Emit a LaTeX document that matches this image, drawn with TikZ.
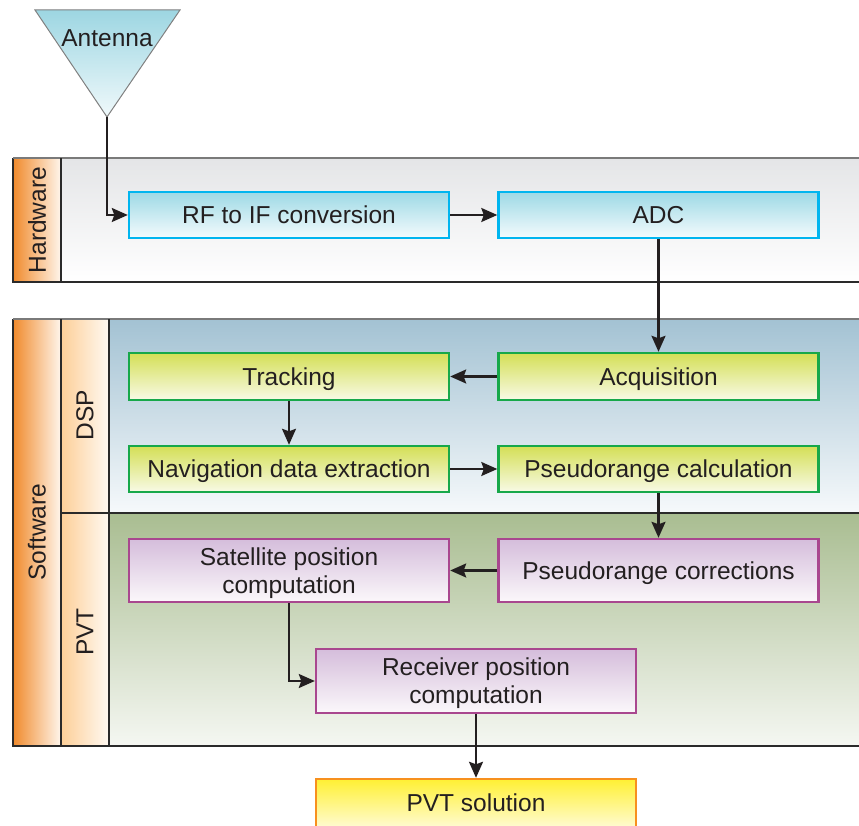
\documentclass[tikz,border=0pt]{standalone}
\usepackage{fontspec}
\setmainfont{Liberation Sans}
\usetikzlibrary{arrows.meta}
\definecolor{txt}{HTML}{231F20}
\definecolor{antT}{HTML}{9DD6E2}
\definecolor{antB}{HTML}{F0F9FB}
\definecolor{hwAreaT}{HTML}{E4E5E7}
\definecolor{orL}{HTML}{F08A2C}
\definecolor{orR}{HTML}{FFF6EC}
\definecolor{loL}{HTML}{FDCF98}
\definecolor{loR}{HTML}{FFF9F2}
\definecolor{dspT}{HTML}{A3C2D3}
\definecolor{dspB}{HTML}{F6F9FB}
\definecolor{pvtT}{HTML}{A9BD91}
\definecolor{pvtB}{HTML}{F5F7F2}
\definecolor{hwBd}{HTML}{00B5EF}
\definecolor{hwT}{HTML}{9DD9E5}
\definecolor{hwB}{HTML}{F4FBFD}
\definecolor{gBd}{HTML}{17A84A}
\definecolor{gT}{HTML}{D4DF56}
\definecolor{gB}{HTML}{F8FAE6}
\definecolor{pBd}{HTML}{A9478F}
\definecolor{pT}{HTML}{D5BDDB}
\definecolor{pB}{HTML}{FBF8FB}
\definecolor{yBd}{HTML}{F7901E}
\definecolor{yT}{HTML}{FFF033}
\definecolor{yB}{HTML}{FFFBD0}
\definecolor{bandln}{HTML}{2A2A2A}
\definecolor{bandtop}{HTML}{7A7A7A}
\begin{document}
\begin{tikzpicture}[x=1pt,y=1pt,
  lbl/.style={text=txt, font=\fontsize{24.5}{28}\selectfont, inner sep=0pt},
  box/.style={draw, line width=2.4pt, minimum width=320pt, minimum height=46pt, inner sep=0pt, text=txt, font=\fontsize{24.5}{28}\selectfont, align=center, text height=17.6pt, text depth=0pt},
  two/.style={text height=45.6pt},
  hwbox/.style={box, draw=hwBd, top color=hwT, bottom color=hwB},
  gbox/.style={box, draw=gBd, top color=gT, bottom color=gB},
  pbox/.style={box, draw=pBd, top color=pT, bottom color=pB, minimum height=63pt},
  ybox/.style={box, draw=yBd, top color=yT, bottom color=yB, minimum height=48pt},
  bandline/.style={draw=bandln, line width=1.1pt},
  bandtopline/.style={draw=bandtop, line width=1.3pt},
  arr/.style={draw=txt, line width=2.2pt, -{Stealth[length=16pt,width=14pt,inset=2.5pt]}}
]
\useasboundingbox (0,0) rectangle (859,825);
\clip (0,0) rectangle (859,825);

% Hardware band
\shade[top color=hwAreaT, bottom color=white] (61,543) rectangle (870,667);
\shade[left color=orL, right color=orR] (13,543) rectangle (61,667);
\draw[bandline] (13,667) -- (13,543) -- (870,543);
\draw[bandtopline] (13,667) -- (870,667);
\draw[bandline] (61,543) -- (61,667);
\node[lbl, rotate=90] (hwl) at (37,605) {Hardware};

% Software band
\shade[left color=orL, right color=orR] (13,79) rectangle (61,506);
\shade[left color=loL, right color=loR] (61,79) rectangle (109,506);
\shade[top color=dspT, bottom color=dspB] (109,312) rectangle (870,506);
\shade[top color=pvtT, bottom color=pvtB] (109,79) rectangle (870,312);
\draw[bandline] (13,506) -- (13,79) -- (870,79);
\draw[bandtopline] (13,506) -- (870,506);
\draw[bandline] (61,79) -- (61,506);
\draw[bandline] (109,79) -- (109,506);
\draw[bandline] (61,312) -- (870,312);
\node[lbl, rotate=90] (swl) at (37,293) {Software};
\node[lbl, rotate=90] (dspl) at (85,410) {DSP};
\node[lbl, rotate=90] (pvtl) at (85,193) {PVT};

% Antenna
\shade[top color=antT, bottom color=antB] (35,815) -- (180,815) -- (107,708) -- cycle;
\draw[draw=gray, line width=1pt] (35,815) -- (180,815) -- (107,708) -- cycle;
\coordinate (ant) at (107,708);
\node[lbl] (antl) at (107,787) {Antenna};

% Boxes
\node[hwbox] (rf) at (289,610) {RF to IF conversion};
\node[hwbox] (adc) at (658.5,610) {ADC};
\node[gbox, minimum height=47pt] (trk) at (289,448.5) {Tracking};
\node[gbox, minimum height=47pt] (acq) at (658.5,448.5) {Acquisition};
\node[gbox] (nav) at (289,356) {Navigation data extraction};
\node[gbox] (psc) at (658.5,356) {Pseudorange calculation};
\node[pbox, two] (sat) at (289,254.5) {Satellite position\\computation};
\node[pbox] (pcor) at (658.5,254.5) {Pseudorange corrections};
\node[pbox, two, minimum height=64pt] (rcv) at (476,144) {Receiver position\\computation};
\node[ybox] (pvts) at (476,22) {PVT solution};

% Arrows
\draw[arr] (ant) |- (rf.west);
\draw[arr] (rf) -- (adc);
\draw[arr] (adc) -- (acq);
\draw[arr] (acq) -- (trk);
\draw[arr] (trk) -- (nav);
\draw[arr] (nav) -- (psc);
\draw[arr] (psc) -- (pcor);
\draw[arr] (pcor) -- (sat);
\draw[arr] (sat) |- (rcv.west);
\draw[arr] (rcv) -- (pvts);
\end{tikzpicture}
\end{document}
